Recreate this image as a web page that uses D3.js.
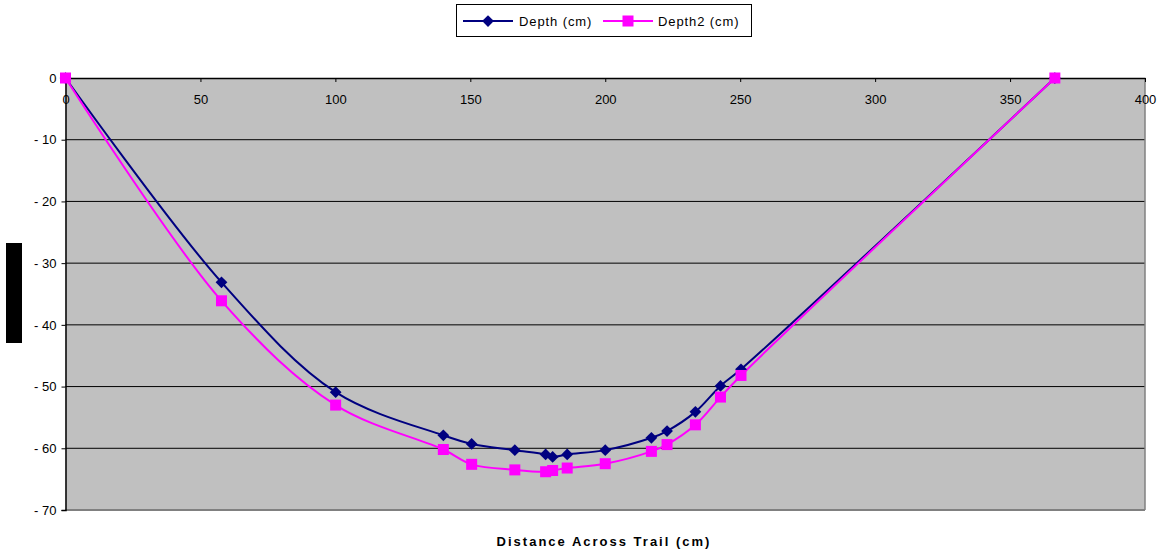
<!DOCTYPE html>
<html><head><meta charset="utf-8">
<script src="https://cdn.jsdelivr.net/npm/d3@7/dist/d3.min.js"></script>
<style>body{margin:0;background:#fff;}svg{display:block;font-family:"Liberation Sans",Arial,sans-serif;}</style>
</head><body><svg id="c" width="1158" height="556"></svg>
<script>
const distance = [0, 57.8, 100.1, 140, 150.5, 166.5, 177.9, 180.5, 185.9, 200, 217.1, 222.9, 233.4, 242.7, 250.3, 366.6];
const depth    = [0, -33.1, -50.9, -57.9, -59.3, -60.3, -61.0, -61.4, -61.0, -60.3, -58.3, -57.2, -54.1, -49.9, -47.2, 0];
const depth2   = [0, -36.1, -53.0, -60.2, -62.6, -63.5, -63.8, -63.6, -63.2, -62.5, -60.5, -59.4, -56.2, -51.7, -48.2, 0];
const xTicks = [0, 50, 100, 150, 200, 250, 300, 350, 400];
const yTicks = [0, -10, -20, -30, -40, -50, -60, -70];
const seriesNames = ["Depth (cm)", "Depth2 (cm)"];
const xTitle = "Distance Across Trail (cm)";

const svg = d3.select("#c");
const L = 65.5, R = 1145, T = 78, B = 510;
const x = d3.scaleLinear().domain([0, 400]).range([L, R]);
const y = d3.scaleLinear().domain([-70, 0]).range([B, T]);
const FONT = "Liberation Sans, Arial, sans-serif";

svg.append("rect").attr("x", L).attr("y", T).attr("width", R - L).attr("height", B - T).attr("fill", "#c0c0c0");
svg.append("g").selectAll("line").data(yTicks.filter(d => d !== 0 && d !== -70)).join("line")
  .attr("x1", L).attr("x2", R).attr("y1", d => y(d)).attr("y2", d => y(d))
  .attr("stroke", "#000").attr("stroke-width", 1);
svg.append("line").attr("x1", R).attr("x2", R).attr("y1", T).attr("y2", B).attr("stroke", "#808080").attr("stroke-width", 1.5);
svg.append("line").attr("x1", L).attr("x2", R).attr("y1", B).attr("y2", B).attr("stroke", "#808080").attr("stroke-width", 2);

const yAxis = d3.axisLeft(y).tickValues(yTicks).tickSize(4).tickPadding(5)
  .tickFormat(d => d === 0 ? "0" : "- " + Math.abs(d));
const gy = svg.append("g").attr("transform", `translate(${L},0)`).call(yAxis);
gy.select(".domain").attr("stroke", "#000").attr("stroke-width", 1.5);
gy.selectAll(".tick line").attr("stroke", "#000");
gy.selectAll("text").attr("font-size", 13).attr("fill", "#000").attr("font-family", FONT);

const xAxis = d3.axisBottom(x).tickValues(xTicks).tickSize(4).tickPadding(13).tickSizeOuter(0);
const gx = svg.append("g").attr("transform", `translate(0,${y(0)})`).call(xAxis);
gx.select(".domain").attr("stroke", "#000").attr("stroke-width", 1.5);
gx.selectAll(".tick line").attr("stroke", "#000");
gx.selectAll("text").attr("font-size", 13).attr("fill", "#000").attr("font-family", FONT);

const line = d3.line().x(d => x(d[0])).y(d => y(d[1])).curve(d3.curveCatmullRom.alpha(0.5));
const s1 = distance.map((d, i) => [d, depth[i]]);
const s2 = distance.map((d, i) => [d, depth2[i]]);
svg.append("path").attr("d", line(s1)).attr("fill", "none").attr("stroke", "#000080").attr("stroke-width", 2);
svg.append("path").attr("d", line(s2)).attr("fill", "none").attr("stroke", "#ff00ff").attr("stroke-width", 2);

const diamond = d3.symbol().type(d3.symbolDiamond2).size(88);
svg.append("g").selectAll("path").data(s1).join("path")
  .attr("d", diamond).attr("transform", d => `translate(${x(d[0])},${y(d[1])})`).attr("fill", "#000080");
svg.append("g").selectAll("rect").data(s2).join("rect")
  .attr("x", d => x(d[0]) - 5.5).attr("y", d => y(d[1]) - 5.5).attr("width", 11).attr("height", 11).attr("fill", "#ff00ff");

svg.append("rect").attr("x", 6).attr("y", 243).attr("width", 16).attr("height", 100).attr("fill", "#000");

svg.append("text").attr("x", 604).attr("y", 546).attr("text-anchor", "middle").attr("font-family", FONT)
  .attr("font-size", 13).attr("font-weight", "bold").attr("letter-spacing", 2).text(xTitle);

const lg = svg.append("g");
lg.append("rect").attr("x", 456.5).attr("y", 4.5).attr("width", 295).attr("height", 32).attr("fill", "#fff").attr("stroke", "#000").attr("stroke-width", 1);
lg.append("line").attr("x1", 463).attr("x2", 513).attr("y1", 21).attr("y2", 21).attr("stroke", "#000080").attr("stroke-width", 2);
lg.append("path").attr("d", diamond).attr("transform", "translate(488,21)").attr("fill", "#000080");
lg.append("text").attr("x", 519).attr("y", 26).attr("font-size", 13).attr("font-family", FONT).attr("letter-spacing", 0.9).text(seriesNames[0]);
lg.append("line").attr("x1", 603).attr("x2", 653).attr("y1", 21).attr("y2", 21).attr("stroke", "#ff00ff").attr("stroke-width", 2);
lg.append("rect").attr("x", 622.5).attr("y", 15.5).attr("width", 11).attr("height", 11).attr("fill", "#ff00ff");
lg.append("text").attr("x", 658).attr("y", 26).attr("font-size", 13).attr("font-family", FONT).attr("letter-spacing", 0.9).text(seriesNames[1]);
</script></body></html>
